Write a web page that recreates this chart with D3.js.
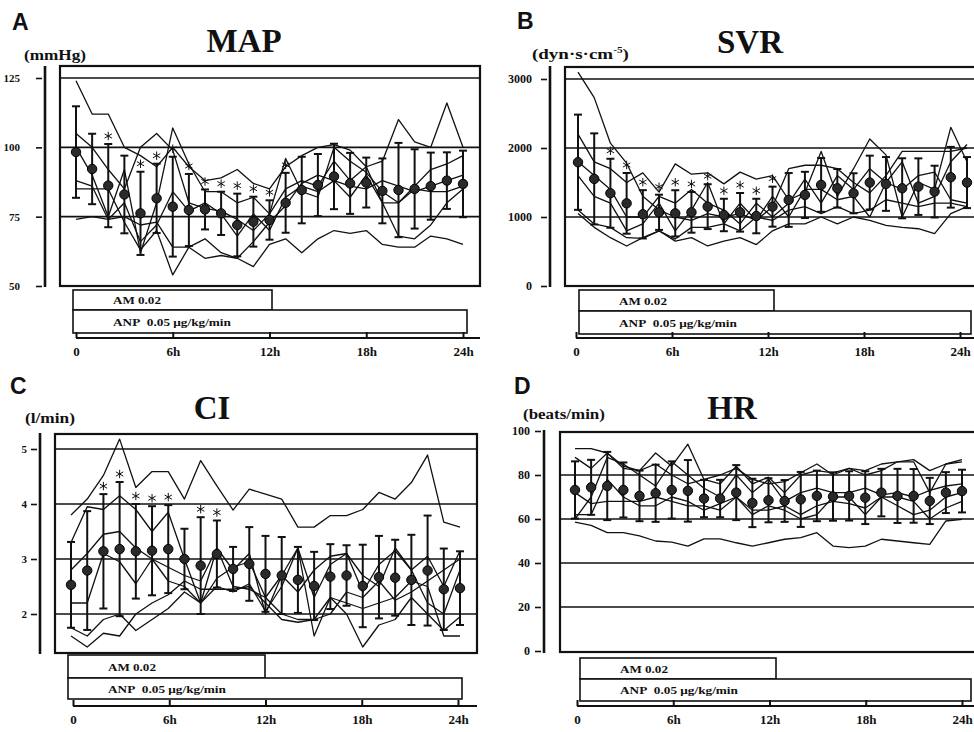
<!DOCTYPE html>
<html>
<head>
<meta charset="utf-8">
<script src="https://cdn.jsdelivr.net/npm/d3@7"></script>
<style>
  body { margin: 0; background: #fff; }
  text { font-family: "Liberation Serif", "DejaVu Serif", serif; font-weight: bold; fill: #111; }
</style>
</head>
<body>
<div id="chart"></div>
<script>
// ---- data ----
var hours = [0,1,2,3,4,5,6,7,8,9,10,11,12,13,14,15,16,17,18,19,20,21,22,23,24];
var xTickHours = [0, 6, 12, 18, 24];
var xTickLabels = ["0", "6h", "12h", "18h", "24h"];
var amLabel = "AM 0.02";
var anpLabel = "ANP\u00a0\u00a00.05 \u03bcg/kg/min";

// MAP (mmHg)
var mapTicks = [50, 75, 100, 125];
var mapGrid = [75, 100, 125];
var mapMean = [98.3,92.2,86.2,83,76.2,81.6,78.6,77.4,77.6,76.2,72,73.2,73.8,80,84.6,86.4,89.5,87,87.3,84.3,84.6,85,86,88,86.8];
var mapSD = [16.5,12.7,15,14,15,12.5,18,13,7.2,7.8,11.3,9,7.1,10.8,12,11.2,11.8,11,9,11.7,17,14.3,12.1,10.2,12];
var mapStars = [2,4,5,6,7,8,9,10,11,12,13];
var mapPatients = [
  [124,112,112,100,97,93,100,93,88,89,92,87,85,93,97,100,101,99,93,80,68,67,72,80,85],
  [105,100,92,85,100,105,99,80,78,77,74,70,76,85,88,86,95,88,93,95,110,102,100,116,100],
  [100,90,75,92,62,80,107,94,84,84,80,82,76,96,84,82,100,95,91,84,80,86,92,94,97],
  [88,86,74,80,66,72,84,77,80,76,68,76,70,82,86,84,88,86,85,88,86,84,86,88,90],
  [85,85,85,73,63,70,54,64,67,62,60,66,73,79,87,90,88,82,90,80,80,85,84,84,86],
  [74,75,74,75,72,73,64,64,60,61,60,57,65,67,62,67,70,69,70,65,64,64,68,67,65]
];

// SVR (dyn.s.cm-5)
var svrTicks = [0, 1000, 2000, 3000];
var svrGrid = [1000, 2000, 3000];
var svrMean = [1794,1552,1344,1198,1039,1068,1053,1068,1150,1029,1068,1014,1150,1247,1320,1465,1416,1344,1499,1479,1416,1440,1368,1576,1499];
var svrSD = [690,660,500,440,350,255,335,295,325,235,280,250,290,390,335,390,280,290,390,390,435,410,375,440,370];
var svrStars = [2,3,4,5,6,7,8,9,10,11,12];
var svrPatients = [
  [3100,2730,2070,1780,1300,1100,1000,950,1050,1000,1050,950,1150,1700,1750,1750,1700,1500,1350,1600,1950,1950,1950,1950,2000],
  [2200,1800,1700,1500,1640,1360,1770,1620,1640,1480,1650,1550,1600,1250,1350,1950,1300,1700,2130,1900,1000,1500,1400,2300,1800],
  [1800,1600,1400,1000,1000,1300,1200,1400,1200,1100,900,1200,1000,1200,1550,1200,1600,1400,1700,1500,1800,1200,1300,1800,2050],
  [1600,1300,1200,800,900,1200,800,1100,1500,900,1200,950,1300,1000,1400,1400,1250,1300,1000,1500,1400,1600,1650,1250,1200],
  [1050,850,700,580,700,800,650,700,580,650,700,600,800,900,900,1000,900,1000,950,880,850,830,760,1050,1150],
  [1100,900,850,700,690,800,680,850,850,900,800,1000,950,1100,1150,1050,1150,1050,1100,1250,1200,1150,1200,1200,1150]
];

// CI (l/min)
var ciTicks = [2, 3, 4, 5];
var ciGrid = [2, 3, 4, 5];
var ciMean = [2.53,2.79,3.14,3.18,3.14,3.15,3.18,3.0,2.88,3.09,2.82,2.91,2.73,2.70,2.62,2.51,2.68,2.70,2.51,2.67,2.66,2.62,2.79,2.45,2.47];
var ciSD = [0.78,1.08,1.04,1.22,0.86,0.81,0.8,0.55,0.88,0.61,0.4,0.67,0.69,0.7,0.6,0.62,0.59,0.55,0.75,0.75,0.69,0.82,1.0,0.74,0.67];
var ciStars = [2,3,4,5,6,8,9];
var ciPatients = [
  [3.80,4.09,4.52,5.18,4.30,4.59,4.59,4.09,4.79,4.33,3.89,4.27,4.18,4.09,3.58,3.58,3.79,3.79,3.90,4.21,4.09,4.39,4.89,3.67,3.58],
  [3.3,3.95,3.9,4.15,3.9,3.5,3.85,3.0,2.2,3.2,2.8,3.1,2.0,2.7,3.2,2.3,2.9,3.1,2.7,2.5,3.2,2.8,2.2,2.0,2.8],
  [2.8,3.1,3.45,3.5,3.2,3.0,2.85,2.7,2.6,3.2,2.5,2.45,2.3,2.0,1.9,1.9,2.0,2.4,2.3,2.6,2.25,2.4,2.6,2.8,3.0],
  [1.6,1.4,1.65,1.6,2.0,2.2,2.35,2.6,2.45,2.45,2.45,2.5,2.2,1.9,1.85,1.9,2.3,2.2,2.1,2.2,2.3,2.6,2.5,1.6,1.6],
  [1.75,1.6,1.9,2.0,1.7,1.9,2.1,2.4,2.2,2.5,2.4,2.55,2.05,2.5,3.2,1.6,2.3,2.0,1.4,1.8,1.9,2.3,2.0,1.7,1.95],
  [2.2,2.2,3.1,2.95,2.55,3.0,2.6,2.5,2.2,2.65,2.85,2.95,2.3,2.7,2.4,2.8,3.05,3.1,2.4,2.9,3.15,2.8,3.05,2.5,3.15]
];

// HR (beats/min)
var hrTicks = [0, 20, 40, 60, 80, 100];
var hrGrid = [20, 40, 60, 80];
var hrMean = [73.2,74.4,75,73.2,70.5,71.7,73.2,72.8,69.3,69.3,72,67.3,68.5,68.2,68.9,70.5,70.2,70.5,69.7,72,70.5,70.5,68.2,72,72.7];
var hrSD = [13,12.5,15.5,12.5,11.5,13,13,14,8.5,8.5,12.5,11,10,9.5,12.5,11.5,11,11.2,12,10.8,12.3,12.2,10.5,9.3,9.7];
var hrStars = [];
var hrPatients = [
  [92,92,90,84,82,85,80,76,78,80,83,78,76,77,81,85,80,83,82,85,86,87,82,85,87],
  [88,83,90,83,82,90,84,94,78,76,84,76,79,72,80,82,81,83,80,82,86,86,72,85,86],
  [60,70,88,85,80,75,86,80,74,70,80,72,78,68,72,74,72,72,74,71,72,70,73,75,76],
  [62,62,78,70,66,66,70,68,64,67,70,64,64,66,62,66,68,67,65,70,66,62,64,70,72],
  [72,67,68,68,68,70,68,66,66,64,70,62,66,64,60,62,70,70,62,70,70,68,60,65,68],
  [58.6,57.1,53.8,53.8,52.3,50,49.5,47.7,51,51,49.2,47.7,49.2,50.8,51.5,53.8,47.7,47,47.7,50.8,50,49.2,48.5,59.1,59.8]
];

// ---- layout of the four panels ----
var panels = [
  { letter: "A", lx: 12, ly: 30, title: "MAP", tx: 244, ty: 52, unit: "(mmHg)", ux: 24, uy: 60, uw: 62,
    box: [60, 66, 480, 286], yAxisX: 45, yAxisTop: 66, yDomain: [50, 125], yRange: [286, 78], labelEnd: 20, tickFont: 11,
    ticks: mapTicks, grid: mapGrid, mean: mapMean, sd: mapSD, stars: mapStars, patients: mapPatients,
    px: [76, 463], axX: [76, 463], axEnd: 480, axY: 338,
    trt: { x0: 73, am: 272, anp: 467, y0: 290, y1: 310, y2: 333 } },
  { letter: "B", lx: 517, ly: 29, title: "SVR", tx: 750, ty: 53, unit: "(dyn\u00b7s\u00b7cm", sup: "-5", ux: 532, uy: 59, uw: 97,
    box: [565, 67, 980, 286], yAxisX: 550, yAxisTop: 66, yDomain: [0, 3000], yRange: [286, 79], labelEnd: 532, tickFont: 12,
    ticks: svrTicks, grid: svrGrid, mean: svrMean, sd: svrSD, stars: svrStars, patients: svrPatients,
    px: [578, 967], axX: [576, 960], axEnd: 980, axY: 338,
    trt: { x0: 579, am: 774, anp: 971, y0: 290, y1: 311, y2: 334 } },
  { letter: "C", lx: 10, ly: 394, title: "CI", tx: 212, ty: 419, unit: "(l/min)", ux: 25, uy: 423, uw: 50,
    box: [55, 434, 477, 653], yAxisX: 40, yAxisTop: 433, yDomain: [2, 5], yRange: [614, 449], labelEnd: 27, tickFont: 11,
    ticks: ciTicks, grid: ciGrid, mean: ciMean, sd: ciSD, stars: ciStars, patients: ciPatients,
    px: [71, 460], axX: [73, 458], axEnd: 477, axY: 706,
    trt: { x0: 68, am: 265, anp: 462, y0: 655, y1: 678, y2: 699 } },
  { letter: "D", lx: 514, ly: 394, title: "HR", tx: 732, ty: 419, unit: "(beats/min)", ux: 523, uy: 419, uw: 82,
    box: [560, 432, 980, 652], yAxisX: 544, yAxisTop: 430, yDomain: [0, 100], yRange: [651, 431], labelEnd: 530, tickFont: 12,
    ticks: hrTicks, grid: hrGrid, mean: hrMean, sd: hrSD, stars: hrStars, patients: hrPatients,
    px: [575, 962], axX: [577, 962], axEnd: 980, axY: 706,
    trt: { x0: 580, am: 776, anp: 971, y0: 658, y1: 679, y2: 701 } }
];

var svg = d3.select("#chart").append("svg")
    .attr("width", 974)
    .attr("height", 732);

// squeeze/stretch a text so it covers the width seen in the scan
function fitWidth(sel, x, y, w) {
  var len = sel.node().getComputedTextLength();
  var k = w / len;
  sel.attr("x", 0).attr("y", 0)
     .attr("transform", "translate(" + x + "," + y + ") scale(" + k + ",1)");
}

var star = d3.symbol().type(d3.symbolAsterisk).size(50);

panels.forEach(function(p) {
  var g = svg.append("g");
  var x = d3.scaleLinear().domain([0, 24]).range(p.px);
  var xa = d3.scaleLinear().domain([0, 24]).range(p.axX);
  var y = d3.scaleLinear().domain(p.yDomain).range(p.yRange);

  // panel letter, title, unit
  g.append("text").attr("x", p.lx).attr("y", p.ly)
    .style("font-family", "'Liberation Sans', Arial, sans-serif")
    .style("font-size", "23px").text(p.letter);
  g.append("text").attr("x", p.tx).attr("y", p.ty)
    .attr("text-anchor", "middle").style("font-size", "33px").text(p.title);
  var u = g.append("text").style("font-size", "15px").text(p.unit);
  if (p.sup) {
    u.append("tspan").attr("dy", -6).style("font-size", "9px").text(p.sup);
    u.append("tspan").attr("dy", 6).text(")");
  }
  fitWidth(u, p.ux, p.uy, p.uw);

  // plot frame
  var b = p.box;
  g.append("rect")
    .attr("x", b[0]).attr("y", b[1])
    .attr("width", b[2] - b[0]).attr("height", b[3] - b[1])
    .attr("fill", "none").attr("stroke", "#111").attr("stroke-width", 2.2);

  // horizontal reference lines
  g.selectAll(".grid").data(p.grid).enter().append("line")
    .attr("x1", b[0]).attr("x2", b[2])
    .attr("y1", function(d) { return y(d); })
    .attr("y2", function(d) { return y(d); })
    .attr("stroke", "#111").attr("stroke-width", 1.6);

  // y axis: thick bar plus small ticks and labels
  g.append("line")
    .attr("x1", p.yAxisX).attr("x2", p.yAxisX)
    .attr("y1", p.yAxisTop).attr("y2", b[3] + 1)
    .attr("stroke", "#111").attr("stroke-width", 2.6);
  var yAxis = d3.axisLeft(y).tickValues(p.ticks).tickSize(6)
    .tickFormat(function(d) { return String(d); })
    .tickPadding(p.yAxisX - 9 - p.labelEnd);
  var yg = g.append("g")
    .attr("transform", "translate(" + (p.yAxisX - 3) + ",0)")
    .call(yAxis);
  yg.select(".domain").remove();
  yg.selectAll("line").attr("stroke", "#111").attr("stroke-width", 1.6);
  yg.selectAll("text")
    .style("font-family", "'Liberation Serif', serif")
    .style("font-weight", "bold")
    .style("font-size", p.tickFont + "px")
    .attr("fill", "#000");

  // individual patients
  var line = d3.line()
    .x(function(d, i) { return x(hours[i]); })
    .y(function(d) { return y(d); });
  g.selectAll(".pt").data(p.patients).enter().append("path")
    .attr("d", line)
    .attr("fill", "none").attr("stroke", "#111")
    .attr("stroke-width", 1.3).attr("stroke-linejoin", "round");

  // mean +/- SD
  var eb = g.selectAll(".eb").data(p.mean).enter().append("g");
  eb.append("line")
    .attr("x1", function(d, i) { return x(hours[i]); })
    .attr("x2", function(d, i) { return x(hours[i]); })
    .attr("y1", function(d, i) { return y(d + p.sd[i]); })
    .attr("y2", function(d, i) { return y(d - p.sd[i]); })
    .attr("stroke", "#111").attr("stroke-width", 2);
  [1, -1].forEach(function(s) {
    eb.append("line")
      .attr("x1", function(d, i) { return x(hours[i]) - 4; })
      .attr("x2", function(d, i) { return x(hours[i]) + 4; })
      .attr("y1", function(d, i) { return y(d + s * p.sd[i]); })
      .attr("y2", function(d, i) { return y(d + s * p.sd[i]); })
      .attr("stroke", "#111").attr("stroke-width", 2);
  });
  eb.append("circle")
    .attr("cx", function(d, i) { return x(hours[i]); })
    .attr("cy", function(d) { return y(d); })
    .attr("r", 4.7)
    .attr("fill", "#2a2a2a").attr("stroke", "#000").attr("stroke-width", 1);

  // significance marks
  g.selectAll(".star").data(p.stars).enter().append("path")
    .attr("d", star)
    .attr("transform", function(k) {
      return "translate(" + x(hours[k]) + "," + (y(p.mean[k] + p.sd[k]) - 8) + ")";
    })
    .attr("fill", "#111").attr("stroke", "#111").attr("stroke-width", 1);

  // treatment bars
  var t = p.trt;
  g.append("rect").attr("x", t.x0).attr("y", t.y0)
    .attr("width", t.am - t.x0).attr("height", t.y1 - t.y0)
    .attr("fill", "#fff").attr("stroke", "#111").attr("stroke-width", 1.6);
  g.append("rect").attr("x", t.x0).attr("y", t.y1)
    .attr("width", t.anp - t.x0).attr("height", t.y2 - t.y1)
    .attr("fill", "#fff").attr("stroke", "#111").attr("stroke-width", 1.6);
  var am = g.append("text").style("font-size", "11px").text(amLabel);
  fitWidth(am, t.x0 + 40, (t.y0 + t.y1) / 2 + 4, 48);
  var anp = g.append("text").style("font-size", "11px").text(anpLabel);
  fitWidth(anp, t.x0 + 40, (t.y1 + t.y2) / 2 + 4, 118);

  // time axis under the bars
  g.append("line")
    .attr("x1", xa(0)).attr("x2", p.axEnd)
    .attr("y1", p.axY).attr("y2", p.axY)
    .attr("stroke", "#111").attr("stroke-width", 2);
  var xAxis = d3.axisBottom(xa).tickValues(xTickHours)
    .tickFormat(function(d, i) { return xTickLabels[i]; })
    .tickSizeInner(-6).tickSizeOuter(0).tickPadding(9);
  var xg = g.append("g")
    .attr("transform", "translate(0," + p.axY + ")")
    .call(xAxis);
  xg.select(".domain").remove();
  xg.selectAll("line").attr("stroke", "#111").attr("stroke-width", 2);
  xg.selectAll("text")
    .style("font-family", "'Liberation Serif', serif")
    .style("font-weight", "bold")
    .style("font-size", "13px")
    .attr("fill", "#000");
});
</script>
</body>
</html>
